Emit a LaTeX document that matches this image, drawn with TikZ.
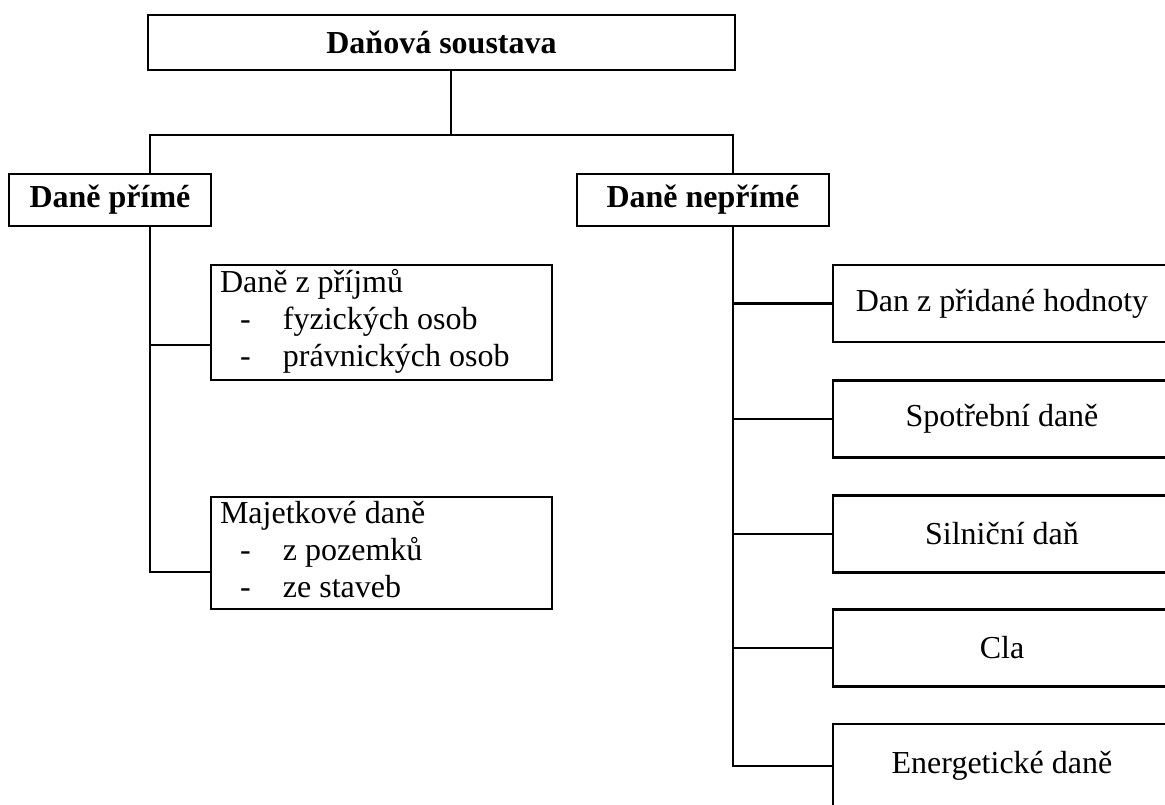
\documentclass[tikz,border=0pt]{standalone}
\usepackage{fontspec}
\setmainfont{Liberation Serif}
\newcommand{\dashitem}[1]{\makebox[63pt][l]{\hspace*{20pt}-}#1}
\begin{document}
\begin{tikzpicture}[x=1pt,y=-1pt,
  box/.style={draw,line width=2.2pt,rectangle,inner sep=0pt,font=\fontsize{32}{37}\selectfont},
  hbox/.style={box,font=\fontsize{32}{37}\selectfont\bfseries},
  lbox/.style={box,minimum width=341pt},
  rbox/.style={box,minimum width=338pt,minimum height=77pt},
  conn/.style={line width=2.2pt}]
\clip (0,0) rectangle (1165,805);
\fill[white] (0,0) rectangle (1165,805);
\node[hbox,minimum width=587pt,minimum height=55pt] (top) at (441.5,42.5) {Daňová soustava};
\node[hbox,minimum width=202pt,minimum height=52pt] (pr) at (110,200) {Daně přímé};
\node[hbox,minimum width=252pt,minimum height=52pt] (npr) at (703,200) {Daně nepřímé};
\node[lbox,minimum height=115pt] (p1) at (381.5,322.5) {\begin{tabular}{@{}l@{}}\makebox[323pt][l]{Daně z příjmů}\\\dashitem{fyzických osob}\\\dashitem{právnických osob}\end{tabular}};
\node[lbox,minimum height=112pt] (p2) at (381.5,553) {\begin{tabular}{@{}l@{}}\makebox[323pt][l]{Majetkové daně}\\\dashitem{z pozemků}\\\dashitem{ze staveb}\end{tabular}};
\node[rbox] (r1) at (1002,303.5) {Dan z přidané hodnoty};
\node[rbox] (r2) at (1002,419) {Spotřební daně};
\node[rbox] (r3) at (1002,534) {Silniční daň};
\node[rbox] (r4) at (1002,648) {Cla};
\node[rbox,minimum height=84pt] (r5) at (1002,766) {Energetické daně};
\coordinate (stem) at (451,135);
\coordinate (lx) at (150,135);
\coordinate (rx) at (733,135);
\coordinate (p1in) at ([yshift=36pt]p1.south west);
\coordinate (p2in) at ([yshift=38pt]p2.south west);
\draw[conn] (stem |- top.south) -- (stem);
\draw[conn] (lx |- pr.north) -- (lx) -- (rx) -- (rx |- npr.north);
\draw[conn] (lx |- pr.south) -- (lx |- p2in) -- (p2in);
\draw[conn] (lx |- p1in) -- (p1in);
\draw[conn] (rx |- npr.south) -- (rx |- r5.west) -- (r5.west);
\draw[conn] (rx |- r1.west) -- (r1.west);
\draw[conn] (rx |- r2.west) -- (r2.west);
\draw[conn] (rx |- r3.west) -- (r3.west);
\draw[conn] (rx |- r4.west) -- (r4.west);
\end{tikzpicture}
\end{document}
